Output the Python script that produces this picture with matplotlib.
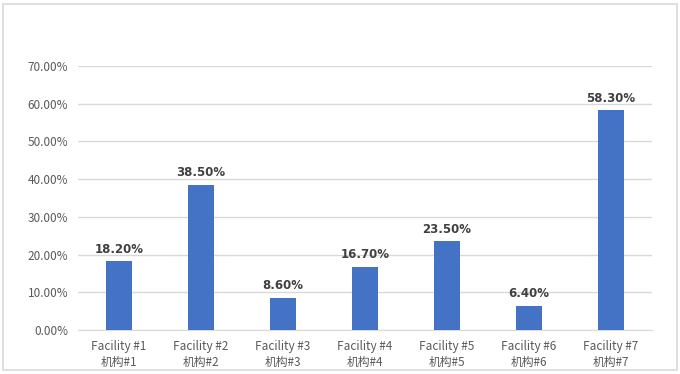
import matplotlib
matplotlib.use("Agg")
import matplotlib.pyplot as plt
from matplotlib.patches import Rectangle
from matplotlib.ticker import FuncFormatter, MultipleLocator

categories = ["Facility #1\n机构#1", "Facility #2\n机构#2", "Facility #3\n机构#3",
              "Facility #4\n机构#4", "Facility #5\n机构#5", "Facility #6\n机构#6",
              "Facility #7\n机构#7"]
values = [0.182, 0.385, 0.086, 0.167, 0.235, 0.064, 0.583]

plt.rcParams['font.family'] = ['Noto Sans CJK SC', 'DejaVu Sans']

fig = plt.figure(figsize=(6.8, 3.74), dpi=100)
ax = fig.add_axes([78/680, 1-330/374, (652-78)/680, (330-66)/374])

x = range(len(categories))
bars = ax.bar(x, values, width=0.32, color="#4472C4", zorder=3)
ax.set_xlim(-0.5, len(categories)-0.5)
ax.set_ylim(0, 0.7)
ax.yaxis.set_major_locator(MultipleLocator(0.1))
ax.yaxis.set_major_formatter(FuncFormatter(lambda v, p: f"{v*100:.2f}%"))
ax.grid(axis="y", color="#D9D9D9", linewidth=1, zorder=0)
for s in ["top", "right", "left"]:
    ax.spines[s].set_visible(False)
ax.spines["bottom"].set_color("#D9D9D9")
ax.tick_params(axis="both", length=0, colors="#595959", labelsize=8.5)
ax.tick_params(axis="y", pad=7)
ax.tick_params(axis="x", pad=7)
ax.set_xticks(list(x))
ax.set_xticklabels(categories, linespacing=1.3)

for xi, v in zip(x, values):
    ax.annotate(f"{v*100:.2f}%", (xi, v), xytext=(0, 4), textcoords="offset points",
                ha="center", va="bottom", fontsize=8.5, fontweight="bold", color="#404040",
                family=['DejaVu Sans'])

fig.patches.append(Rectangle((3/680, 4/374), 674/680, 366/374, transform=fig.transFigure,
                             fill=False, edgecolor="#D9D9D9", linewidth=1.2))

fig.savefig("out.png", dpi=100)
